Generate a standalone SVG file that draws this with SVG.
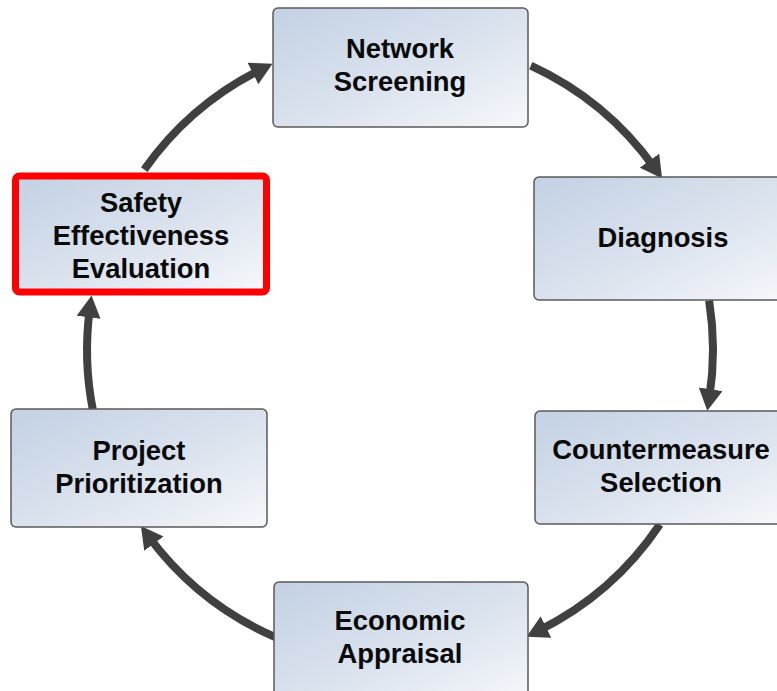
<svg xmlns="http://www.w3.org/2000/svg" width="777" height="691" viewBox="0 0 777 691">
  <defs>
    <linearGradient id="boxfill" x1="0" y1="0" x2="1" y2="1">
      <stop offset="0" stop-color="#c3d1e3"/>
      <stop offset="0.55" stop-color="#dbe3ee"/>
      <stop offset="1" stop-color="#f6f8fb"/>
    </linearGradient>
    <marker id="head" markerUnits="userSpaceOnUse" markerWidth="22" markerHeight="24" viewBox="0 0 20 22" refX="8" refY="11" orient="auto">
      <path d="M0,0 L20,11 L0,22 z" fill="#404040"/>
    </marker>
  </defs>
  <style>
    .box { fill: url(#boxfill); stroke: #5a5a5a; stroke-width: 1.5; }
    .hl { stroke: #ff0000; stroke-width: 7; }
    .lbl { font-family: "Liberation Sans", Arial, sans-serif; font-weight: bold; font-size: 27.4px; fill: #0a0a0a; text-anchor: middle; }
    .arc { fill: none; stroke: #404040; stroke-width: 8; marker-end: url(#head); }
  </style>
  <rect width="777" height="691" fill="#ffffff"/>
  <g id="connectors">
    <path class="arc" d="M530.8,65.6 A313,313 0 0 1 654.5,167.8"/>
    <path class="arc" d="M709.1,300.5 A313,313 0 0 1 709.3,397.9"/>
    <path class="arc" d="M659.8,524.6 A313,313 0 0 1 538.2,630.9"/>
    <path class="arc" d="M275.2,637.1 A313,313 0 0 1 148.7,536.6"/>
    <path class="arc" d="M92.9,410.3 A313,313 0 0 1 89.8,308.6"/>
    <path class="arc" d="M144.3,169.6 A313,313 0 0 1 260.8,69.6"/>
  </g>
  <g id="network-screening">
    <rect class="box" x="273" y="8" width="255" height="119" rx="5"/>
    <text class="lbl" x="400" y="58">Network</text>
    <text class="lbl" x="400" y="91">Screening</text>
  </g>
  <g id="diagnosis">
    <rect class="box" x="534" y="177" width="256" height="123" rx="5"/>
    <text class="lbl" x="663" y="247">Diagnosis</text>
  </g>
  <g id="countermeasure-selection">
    <rect class="box" x="535" y="411" width="252" height="113" rx="5"/>
    <text class="lbl" x="661" y="459">Countermeasure</text>
    <text class="lbl" x="661" y="492">Selection</text>
  </g>
  <g id="economic-appraisal">
    <rect class="box" x="274" y="582" width="254" height="120" rx="5"/>
    <text class="lbl" x="400" y="630">Economic</text>
    <text class="lbl" x="400" y="663">Appraisal</text>
  </g>
  <g id="project-prioritization">
    <rect class="box" x="11" y="409" width="256" height="118" rx="5"/>
    <text class="lbl" x="139" y="460">Project</text>
    <text class="lbl" x="139" y="493">Prioritization</text>
  </g>
  <g id="safety-effectiveness-evaluation">
    <rect class="box hl" x="15.5" y="176" width="251" height="116" rx="4"/>
    <text class="lbl" x="141" y="212">Safety</text>
    <text class="lbl" x="141" y="245">Effectiveness</text>
    <text class="lbl" x="141" y="278">Evaluation</text>
  </g>
</svg>
